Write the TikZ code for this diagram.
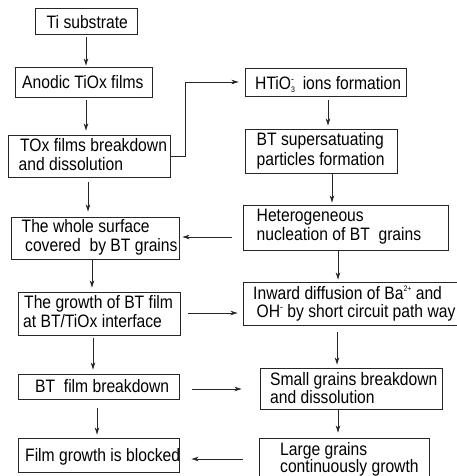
\documentclass[tikz,border=0pt]{standalone}
\usepackage{fontspec}
\setmainfont{Liberation Sans}[FakeStretch=0.87]
\usetikzlibrary{arrows.meta}
\newcommand{\mysup}[1]{\raisebox{0.8ex}{\fontsize{8}{8}\selectfont #1}}
\newcommand{\mysub}[1]{\raisebox{-0.35ex}{\fontsize{8}{8}\selectfont #1}}
\newcommand{\myminus}{\raisebox{0.75ex}{\fontsize{10}{10}\selectfont -}}
\begin{document}
\begin{tikzpicture}[x=1pt,y=-1pt,
  box/.style={draw=black!85, line width=0.9pt, rectangle, inner sep=0pt},
  txt/.style={anchor=base west, inner sep=0pt, font=\fontsize{18}{20}\selectfont},
  arr/.style={draw=black!85, line width=0.8pt, -{Stealth[length=7pt,width=4.5pt,inset=2pt]}}]
\clip (0,0) rectangle (457,476);
\fill[white] (0,0) rectangle (457,476);
% left column boxes
\node[box, minimum width=102pt, minimum height=26pt] (b1) at (86,21) {};
\node[box, minimum width=137pt, minimum height=30pt] (b2) at (83.5,82) {};
\node[box, minimum width=162pt, minimum height=42pt] (b3) at (89,156) {};
\node[box, minimum width=168pt, minimum height=42pt] (b4) at (95,238) {};
\node[box, minimum width=162pt, minimum height=43pt] (b5) at (99,313.5) {};
\node[box, minimum width=161pt, minimum height=25pt] (b6) at (98.5,386.5) {};
\node[box, minimum width=161pt, minimum height=34pt] (b7) at (98.5,455) {};
% right column boxes
\node[box, minimum width=161pt, minimum height=28pt] (r1) at (325.5,82) {};
\node[box, minimum width=152pt, minimum height=44pt] (r2) at (321,151) {};
\node[box, minimum width=205pt, minimum height=45pt] (r3) at (345.5,227.5) {};
\node[box, minimum width=215pt, minimum height=43pt] (r4) at (350.5,303.5) {};
\node[box, minimum width=182pt, minimum height=41pt] (r5) at (351,388.5) {};
\node[box, minimum width=170pt, minimum height=42pt] (r6) at (344,459) {};
% texts
\node[txt] (t1) at (46.5,28.5) {Ti substrate};
\node[txt] (t2) at (22,88.5) {Anodic TiOx films};
\node[txt] (t3a) at (20,151.5) {TOx films breakdown};
\node[txt] (t3b) at (18.5,170) {and dissolution};
\node[txt] (t4a) at (21.5,232.5) {The whole surface};
\node[txt] (t4b) at (25,251.5) {covered\ \ by BT grains};
\node[txt] (t5a) at (24,308.5) {The growth of BT film};
\node[txt] (t5b) at (23,327) {at BT/TiOx interface};
\node[txt] (t6) at (35,392.5) {BT\ \ film breakdown};
\node[txt] (t7) at (25,461.5) {Film growth is blocked};
\node[txt] (tr1) at (255,89.5) {HTiO\rlap{\mysub{3}}\myminus\ \ ions formation};
\node[txt] (tr2a) at (256.5,146) {BT supersatuating};
\node[txt] (tr2b) at (256.5,165) {particles formation};
\node[txt] (tr3a) at (256.5,221.5) {Heterogeneous};
\node[txt] (tr3b) at (256.5,240) {nucleation of BT\ \ grains};
\node[txt] (tr4a) at (253,299.5) {Inward diffusion of Ba\mysup{2+} and};
\node[txt] (tr4b) at (256.5,317.5) {OH\myminus\ by short circuit path way};
\node[txt] (tr5a) at (270,385) {Small grains breakdown};
\node[txt] (tr5b) at (270,403.5) {and dissolution};
\node[txt] (tr6a) at (280,455) {Large grains};
\node[txt] (tr6b) at (280,472) {continuously growth};
% vertical connectors left
\draw[arr, shorten <=3pt, shorten >=1pt] (b1.south -| 86,0) -- (b2.north -| 86,0);
\draw[arr, shorten <=3pt, shorten >=4pt] (b2.south -| 86,0) -- (b3.north -| 86,0);
\draw[arr, shorten <=5pt, shorten >=5pt] (b3.south -| 88,0) -- (b4.north -| 88,0);
\draw[arr, shorten <=1pt, shorten >=4pt] (b4.south -| 92,0) -- (b5.north -| 92,0);
\draw[arr, shorten <=3pt, shorten >=4pt] (b5.south -| 93,0) -- (b6.north -| 93,0);
\draw[arr, shorten <=9pt, shorten >=3pt] (b6.south -| 97,0) -- (b7.north -| 97,0);
% vertical connectors right
\draw[arr, shorten <=4pt, shorten >=3pt] (r1.south -| 328,0) -- (r2.north -| 328,0);
\draw[arr, shorten <=0pt, shorten >=2pt] (r2.south -| 332,0) -- (r3.north -| 332,0);
\draw[arr, shorten <=0pt, shorten >=2pt] (r3.south -| 338,0) -- (r4.north -| 338,0);
\draw[arr, shorten <=7pt, shorten >=3pt] (r4.south -| 337,0) -- (r5.north -| 337,0);
\draw[arr, shorten <=1pt, shorten >=5pt] (r5.south -| 338,0) -- (r6.north -| 338,0);
% horizontal connectors
\coordinate (elbow) at (185,82);
\draw[arr, shorten >=6pt] (b3.east) -| (elbow) -- (r1.west);
\draw[arr, shorten <=11pt, shorten >=3pt] (r3.west |- 0,237) -- (b4.east |- 0,237);
\draw[arr, shorten <=8pt, shorten >=5pt] (b5.east |- 0,313) -- (r4.west |- 0,313);
\draw[arr, shorten <=13pt, shorten >=18pt] (b6.east |- 0,389) -- (r5.west |- 0,389);
\draw[arr, shorten <=16pt, shorten >=12pt] (r6.west |- 0,459) -- (b7.east |- 0,459);
\end{tikzpicture}
\end{document}
